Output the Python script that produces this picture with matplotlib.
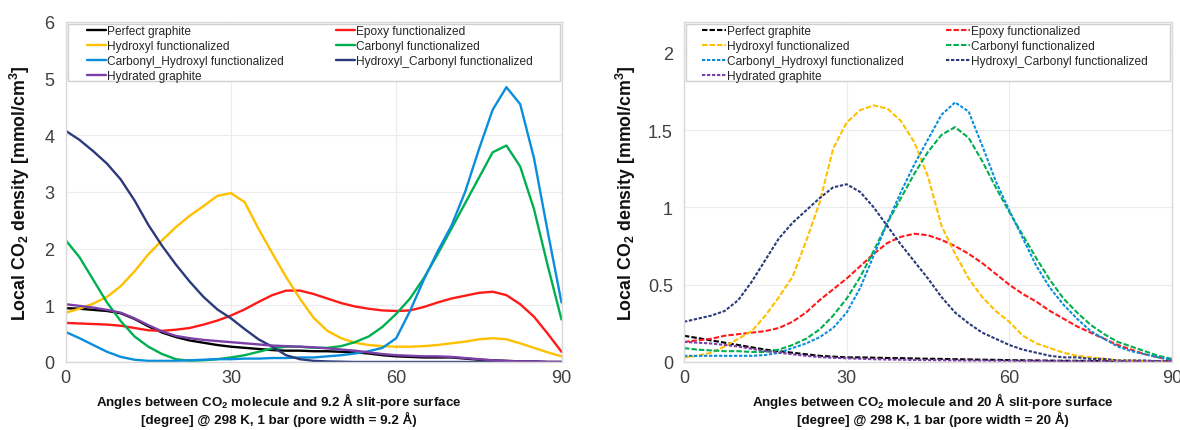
import matplotlib
matplotlib.use("Agg")
import matplotlib.pyplot as plt
from matplotlib.patches import Rectangle

plt.rcParams['font.family'] = ['Liberation Sans', 'DejaVu Sans']
plt.rcParams['mathtext.fontset'] = 'custom'
plt.rcParams['mathtext.rm'] = 'Liberation Sans'
plt.rcParams['mathtext.bf'] = 'Liberation Sans:bold'

# ---------------- data ----------------
angles = [0, 2.5, 5, 7.5, 10, 12.5, 15, 17.5, 20, 22.5, 25, 27.5, 30, 32.5, 35, 37.5,
          40, 42.5, 45, 47.5, 50, 52.5, 55, 57.5, 60, 62.5, 65, 67.5, 70, 72.5, 75,
          77.5, 80, 82.5, 85, 87.5, 90]

series_names = ["Perfect graphite", "Epoxy functionalized", "Hydroxyl functionalized",
                "Carbonyl functionalized", "Carbonyl_Hydroxyl functionalized",
                "Hydroxyl_Carbonyl functionalized", "Hydrated graphite"]

# 9.2 A pore
perfect_92 = [0.95, 0.94, 0.92, 0.90, 0.86, 0.76, 0.63, 0.52, 0.44, 0.38, 0.34, 0.30, 0.27, 0.25, 0.23, 0.21,
              0.20, 0.20, 0.19, 0.19, 0.18, 0.17, 0.15, 0.12, 0.10, 0.09, 0.08, 0.08, 0.08, 0.06, 0.04,
              0.03, 0.02, 0.01, 0.01, 0.0, 0.0]
epoxy_92 = [0.69, 0.68, 0.67, 0.66, 0.64, 0.60, 0.56, 0.55, 0.57, 0.60, 0.66, 0.73, 0.82, 0.93, 1.06, 1.18,
            1.26, 1.26, 1.20, 1.12, 1.04, 0.98, 0.94, 0.91, 0.90, 0.91, 0.97, 1.05, 1.12, 1.17, 1.22,
            1.24, 1.18, 1.02, 0.80, 0.50, 0.18]
hydroxyl_92 = [0.87, 0.94, 1.03, 1.15, 1.34, 1.60, 1.90, 2.15, 2.38, 2.58, 2.75, 2.93, 2.98, 2.82, 2.35, 1.92,
               1.50, 1.12, 0.78, 0.55, 0.42, 0.34, 0.30, 0.28, 0.27, 0.27, 0.28, 0.30, 0.33, 0.36, 0.40,
               0.42, 0.40, 0.33, 0.25, 0.17, 0.10]
carbonyl_92 = [2.15, 1.85, 1.45, 1.05, 0.72, 0.45, 0.27, 0.14, 0.05, 0.02, 0.03, 0.05, 0.08, 0.12, 0.18, 0.24,
               0.27, 0.27, 0.25, 0.25, 0.28, 0.35, 0.45, 0.62, 0.85, 1.12, 1.48, 1.90, 2.35, 2.80, 3.25,
               3.70, 3.82, 3.45, 2.70, 1.70, 0.75]
carb_hyd_92 = [0.53, 0.42, 0.30, 0.18, 0.09, 0.04, 0.02, 0.02, 0.02, 0.03, 0.04, 0.05, 0.05, 0.06, 0.06, 0.07,
               0.07, 0.08, 0.08, 0.10, 0.12, 0.15, 0.19, 0.25, 0.42, 0.90, 1.45, 1.95, 2.40, 3.00, 3.75,
               4.45, 4.85, 4.55, 3.60, 2.30, 1.05]
hyd_carb_92 = [4.08, 3.92, 3.72, 3.50, 3.22, 2.85, 2.42, 2.05, 1.72, 1.42, 1.15, 0.93, 0.77, 0.58, 0.40, 0.27,
               0.12, 0.05, 0.02, 0.01, 0.005, 0.0, 0.0, 0.0, 0.0, 0.0, 0.0, 0.0, 0.0, 0.0, 0.0,
               0.0, 0.0, 0.0, 0.0, 0.0, 0.0]
hydrated_92 = [1.02, 0.99, 0.96, 0.92, 0.87, 0.77, 0.65, 0.54, 0.46, 0.42, 0.39, 0.37, 0.35, 0.33, 0.31, 0.29,
               0.28, 0.27, 0.26, 0.24, 0.22, 0.20, 0.17, 0.14, 0.12, 0.11, 0.10, 0.10, 0.09, 0.07, 0.05,
               0.03, 0.02, 0.01, 0.01, 0.0, 0.0]

# 20 A pore
perfect_20 = [0.17, 0.155, 0.14, 0.125, 0.11, 0.095, 0.08, 0.07, 0.06, 0.05, 0.04, 0.035, 0.03, 0.03, 0.028, 0.026,
              0.025, 0.023, 0.021, 0.02, 0.018, 0.017, 0.015, 0.014, 0.012, 0.011, 0.01, 0.009, 0.008, 0.008, 0.007,
              0.007, 0.006, 0.006, 0.005, 0.005, 0.005]
epoxy_20 = [0.13, 0.14, 0.15, 0.17, 0.18, 0.19, 0.20, 0.22, 0.26, 0.32, 0.40, 0.47, 0.54, 0.62, 0.70, 0.77,
            0.81, 0.83, 0.82, 0.79, 0.75, 0.70, 0.64, 0.57, 0.50, 0.44, 0.39, 0.33, 0.28, 0.23, 0.19,
            0.15, 0.11, 0.08, 0.05, 0.03, 0.01]
hydroxyl_20 = [0.03, 0.04, 0.06, 0.10, 0.15, 0.20, 0.30, 0.42, 0.55, 0.78, 1.03, 1.38, 1.55, 1.63, 1.66, 1.64,
               1.56, 1.42, 1.20, 0.88, 0.70, 0.54, 0.42, 0.33, 0.26, 0.17, 0.12, 0.09, 0.06, 0.04, 0.03,
               0.02, 0.01, 0.01, 0.005, 0.0, 0.0]
carbonyl_20 = [0.09, 0.08, 0.075, 0.07, 0.07, 0.065, 0.065, 0.08, 0.11, 0.15, 0.21, 0.30, 0.41, 0.55, 0.72, 0.90,
               1.06, 1.22, 1.36, 1.47, 1.52, 1.45, 1.30, 1.13, 0.97, 0.82, 0.67, 0.53, 0.41, 0.32, 0.24,
               0.18, 0.13, 0.10, 0.07, 0.04, 0.02]
carb_hyd_20 = [0.04, 0.04, 0.04, 0.04, 0.04, 0.04, 0.045, 0.06, 0.09, 0.12, 0.16, 0.22, 0.32, 0.48, 0.69, 0.90,
               1.10, 1.28, 1.44, 1.60, 1.68, 1.62, 1.40, 1.17, 0.98, 0.80, 0.62, 0.48, 0.37, 0.28, 0.20,
               0.15, 0.10, 0.07, 0.05, 0.03, 0.015]
hyd_carb_20 = [0.26, 0.28, 0.30, 0.33, 0.40, 0.52, 0.66, 0.80, 0.90, 0.98, 1.06, 1.13, 1.15, 1.10, 1.00, 0.88,
               0.76, 0.65, 0.54, 0.42, 0.32, 0.25, 0.19, 0.15, 0.11, 0.08, 0.06, 0.04, 0.03, 0.03, 0.02,
               0.02, 0.01, 0.01, 0.01, 0.005, 0.0]
hydrated_20 = [0.13, 0.125, 0.12, 0.11, 0.10, 0.085, 0.07, 0.06, 0.05, 0.04, 0.032, 0.027, 0.024, 0.021, 0.018, 0.016,
               0.015, 0.013, 0.012, 0.011, 0.01, 0.009, 0.009, 0.008, 0.008, 0.007, 0.007, 0.006, 0.006, 0.006, 0.005,
               0.005, 0.005, 0.005, 0.005, 0.005, 0.005]

x_ticks = [0, 30, 60, 90]
y_ticks_92 = [0, 1, 2, 3, 4, 5, 6]
y_ticks_20 = [0, 0.5, 1, 1.5, 2]
y_ticklabels_20 = ["0", "0.5", "1", "1.5", "2"]

xlabel_92 = ("Angles between CO$_{\\mathbf{2}}$ molecule and 9.2 Å slit-pore surface\n"
             "[degree] @ 298 K, 1 bar (pore width = 9.2 Å)")
xlabel_20 = ("Angles between CO$_{\\mathbf{2}}$ molecule and 20 Å slit-pore surface\n"
             "[degree] @ 298 K, 1 bar (pore width = 20 Å)")
ylabel = "Local CO$_{\\mathbf{2}}$ density [mmol/cm$^{\\mathbf{3}}$]"

# ---------------- styles ----------------
colors = ["#000000", "#FF1A1A", "#FFC000", "#00B050", "#0A8EDC", "#2B3A7A", "#7B3FA8"]
long_dash = (2.6, 1.0)
short_dash = (1.6, 0.8)
dash_styles = [long_dash, long_dash, long_dash, long_dash, short_dash, short_dash, short_dash]

data_92 = [perfect_92, epoxy_92, hydroxyl_92, carbonyl_92, carb_hyd_92, hyd_carb_92, hydrated_92]
data_20 = [perfect_20, epoxy_20, hydroxyl_20, carbonyl_20, carb_hyd_20, hyd_carb_20, hydrated_20]

W, H = 1180, 431
fig = plt.figure(figsize=(W / 100, H / 100), dpi=100)

def px_axes(l, r, t, b):
    return fig.add_axes([l / W, 1 - b / H, (r - l) / W, (b - t) / H])

ax1 = px_axes(65.7, 561.5, 23, 363)
ax2 = px_axes(684, 1172, 23, 363)

grid_c = "#D9D9D9"
tick_c = "#404040"

def style(ax, ymax, yticks, yticklabels=None):
    ax.set_xlim(0, 90)
    ax.set_ylim(0, ymax)
    ax.set_xticks(x_ticks)
    ax.set_yticks(yticks)
    if yticklabels is not None:
        ax.set_yticklabels(yticklabels)
    ax.grid(True, color="#EBEBEB", linewidth=0.8)
    ax.set_axisbelow(True)
    for s in ax.spines.values():
        s.set_color(grid_c)
        s.set_linewidth(1.0)
    ax.tick_params(length=0, labelsize=13, colors=tick_c)
    ax.tick_params(axis='x', pad=5)
    ax.tick_params(axis='y', pad=8)

# left panel
handles1 = []
for name, ys, c in zip(series_names, data_92, colors):
    ln, = ax1.plot(angles, ys, color=c, lw=1.7, label=name,
                   solid_capstyle='round', solid_joinstyle='round')
    handles1.append(ln)
style(ax1, 6, y_ticks_92)

# right panel
handles2 = []
for name, ys, c, d in zip(series_names, data_20, colors, dash_styles):
    ln, = ax2.plot(angles, ys, color=c, lw=1.5, label=name, dashes=d,
                   dash_joinstyle='round')
    handles2.append(ln)
style(ax2, 2.2, y_ticks_20, y_ticklabels_20)

order = [0, 2, 4, 6, 1, 3, 5]

def add_legend(ax, handles, x0, colsp, hl):
    ax.add_patch(Rectangle((0.004, 0.826), 0.992, 0.168, transform=ax.transAxes,
                           facecolor="white", edgecolor="#D0D0D0", lw=1.0, zorder=4))
    leg = ax.legend([handles[i] for i in order], [series_names[i] for i in order],
                    ncol=2, loc="upper left", bbox_to_anchor=(x0, 0.998), frameon=False,
                    fontsize=8.6, handlelength=hl, handletextpad=0.12, columnspacing=colsp,
                    labelspacing=0.26, borderpad=0.2, borderaxespad=0.0)
    leg.set_zorder(5)
    for t in leg.get_texts():
        t.set_color("#262626")
    return leg

add_legend(ax1, handles1, 0.038, 4.3, 1.6)
add_legend(ax2, handles2, 0.032, 3.5, 2.0)

for ax, xl in ((ax1, xlabel_92), (ax2, xlabel_20)):
    ax.set_ylabel(ylabel, fontsize=12.8, fontweight="bold", color="#111111")
    ax.set_xlabel(xl, fontsize=9.6, fontweight="bold", color="#111111", linespacing=1.1)

ax1.yaxis.set_label_coords(-0.068, 0.5)
ax2.yaxis.set_label_coords(-0.094, 0.5)
ax1.xaxis.set_label_coords(0.43, -0.083)
ax2.xaxis.set_label_coords(0.51, -0.083)

fig.savefig("out.png", dpi=100)
